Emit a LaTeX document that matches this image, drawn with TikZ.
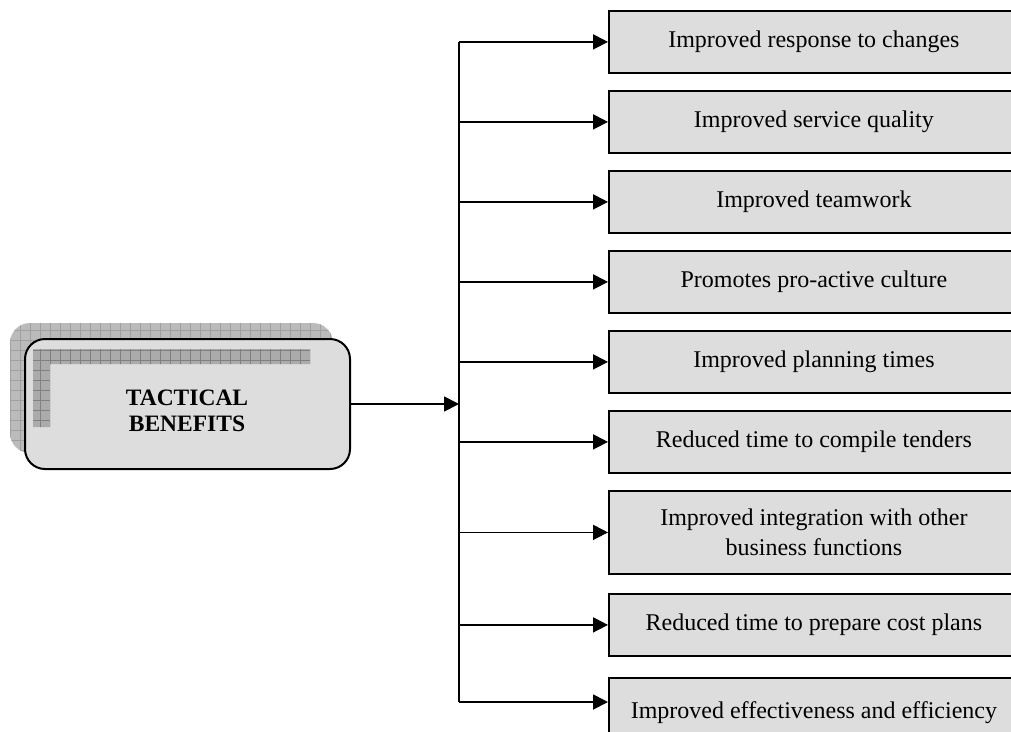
\documentclass[tikz,border=0pt]{standalone}
\usepackage{fontspec}
\setmainfont{Liberation Serif}
\usetikzlibrary{arrows.meta,calc}
\definecolor{boxfill}{HTML}{DDDDDD}
\definecolor{shadowfill}{HTML}{BBBBBB}
\definecolor{gridline}{HTML}{A0A0A0}
\definecolor{lfill}{HTML}{ABABAB}
\tikzset{
  benefit/.style={draw=black, line width=1.8pt, fill=boxfill, minimum width=410pt, minimum height=62pt,
    anchor=north west, align=center, inner sep=2pt, font=\fontsize{24}{30}\selectfont},
  mainbox/.style={draw=black, line width=2pt, fill=boxfill, rounded corners=20pt,
    minimum width=325pt, minimum height=130pt, inner sep=0pt},
  conn/.style={line width=1.8pt, draw=black},
  arr/.style={conn, -{Triangle[length=15pt,width=15pt]}},
}
\begin{document}
\begin{tikzpicture}[x=1pt,y=-1pt]
\path[use as bounding box, clip] (0,0) rectangle (1011,731);
\fill[white] (0,0) rectangle (1011,731);
% shadow with grid
\begin{scope}
  \clip[rounded corners=20pt] (10,323) rectangle (333,453);
  \fill[shadowfill] (10,323) rectangle (333,453);
  \draw[gridline, line width=0.5pt] (3,316) grid[step=10pt] (340,460);
\end{scope}
% main box
\node[mainbox] (tb) at (187.5,404) {};
% inner L shape
\begin{scope}
  \clip (33,349) rectangle (310,364) (33,364) rectangle (50,427);
  \fill[lfill] (30,340) rectangle (320,430);
  \draw[gridline!80!black, line width=0.5pt] (33,349) grid[step=10pt] (320,430);
\end{scope}
\node[font=\bfseries\fontsize{23.5}{26}\selectfont, align=center] (tbtext) at (187,411) {TACTICAL\\BENEFITS};
% benefit boxes
\node[benefit] (b1) at (608,10) {Improved response to changes};
\node[benefit] (b2) at (608,90) {Improved service quality};
\node[benefit] (b3) at (608,170) {Improved teamwork};
\node[benefit] (b4) at (608,250) {Promotes pro-active culture};
\node[benefit] (b5) at (608,330) {Improved planning times};
\node[benefit] (b6) at (608,410) {Reduced time to compile tenders};
\node[benefit, minimum height=83pt] (b7) at (608,490) {Improved integration with other\\business functions};
\node[benefit] (b8) at (608,593) {Reduced time to prepare cost plans};
\node[benefit, minimum height=70pt] (b9) at (608,677) {Improved effectiveness and efficiency};
\coordinate (a9) at ([yshift=-25pt]b9.north west);
% trunk coordinates
\coordinate (trunk) at (459,0);
\foreach \i in {1,...,8} {\coordinate (t\i) at (trunk |- b\i.west);}
\coordinate (t9) at (trunk |- a9);
\coordinate (tm) at (trunk |- tb.east);
\draw[conn] (t1) -- (t9);
\draw[arr] (tb.east) -- (tm);
\foreach \i in {1,...,8} {\draw[arr] (t\i) -- (b\i.west);}
\draw[arr] (t9) -- (a9);
\end{tikzpicture}
\end{document}
